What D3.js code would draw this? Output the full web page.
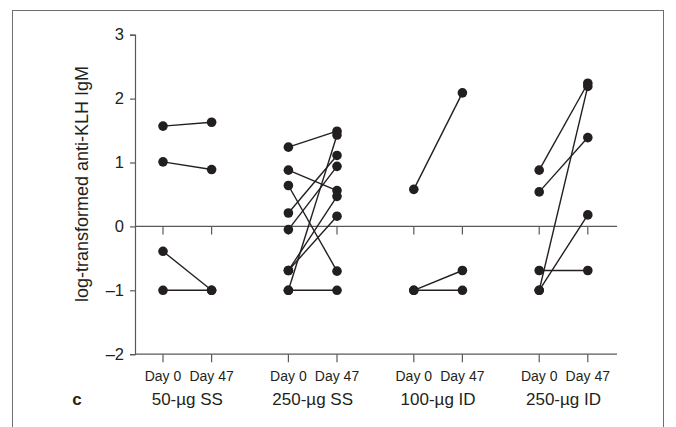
<!DOCTYPE html>
<html>
<head>
<meta charset="utf-8">
<script src="https://cdn.jsdelivr.net/npm/d3@7"></script>
<style>
  html, body { margin: 0; padding: 0; background: #fff; }
  svg { display: block; }
  text { font-family: "Liberation Sans", Arial, sans-serif; fill: #231f20; }
</style>
</head>
<body>
<svg id="chart" width="676" height="427"></svg>
<script>
// Treatment groups and sampling days
const groups = ["50-µg SS", "250-µg SS", "100-µg ID", "250-µg ID"];
const days = ["Day 0", "Day 47"];
const yTicks = [-2, -1, 0, 1, 2, 3];

// Paired subject values (log-transformed anti-KLH IgM), Day 0 → Day 47
const ss50Day0  = [1.57, 1.01, -0.39, -1.0];
const ss50Day47 = [1.63, 0.89, -1.0, -1.0];
const ss250Day0  = [1.24, 0.88, 0.64, 0.21, -0.05, -0.69, -0.69, -1.0, -1.0];
const ss250Day47 = [1.49, 0.56, -0.70, 1.11, 0.94, 0.47, 0.16, 1.43, -1.0];
const id100Day0  = [0.58, -1.0, -1.0];
const id100Day47 = [2.09, -0.69, -1.0];
const id250Day0  = [0.88, 0.54, -0.69, -1.0, -1.0];
const id250Day47 = [2.24, 1.39, -0.69, 2.19, 0.18];

const day0Sets = [ss50Day0, ss250Day0, id100Day0, id250Day0];
const day47Sets = [ss50Day47, ss250Day47, id100Day47, id250Day47];

const pairs = [];
groups.forEach((g, i) => {
  day0Sets[i].forEach((v0, j) => pairs.push({ group: g, v0, v1: day47Sets[i][j] }));
});

const svg = d3.select("#chart");
const ink = "#231f20";
const axisCol = "#58595b";

// Panel frame
svg.append("rect")
  .attr("x", 12.5).attr("y", 10.5).attr("width", 651).attr("height", 440)
  .attr("fill", "none").attr("stroke", "#6d6e71").attr("stroke-width", 1);

const y = d3.scaleLinear().domain([-2, 3]).range([354.2, 34.7]);
const xGroup = d3.scaleBand().domain(groups).range([124.6, 626.2]);
const xDay = d3.scalePoint().domain(days).range([-24.3, 24.3]);
const xPos = (g, d) => xGroup(g) + xGroup.bandwidth() / 2 + xDay(d);

const xLeft = 135, xRight = 617;

// Y axis
const yAxis = svg.append("g")
  .attr("transform", `translate(${xLeft},0)`)
  .call(d3.axisLeft(y).tickValues(yTicks).tickSize(5).tickPadding(6)
        .tickFormat(d => d < 0 ? "\u2013" + Math.abs(d) : d));
yAxis.select(".domain").attr("stroke", axisCol).attr("stroke-width", 1.2);
yAxis.selectAll(".tick line").attr("stroke", axisCol).attr("stroke-width", 1.2);
yAxis.selectAll(".tick text")
  .attr("font-family", "Liberation Sans, Arial, sans-serif")
  .attr("font-size", 16.5).attr("fill", ink);

// Baseline at -2 and reference line at 0
[-2, 0].forEach(v => {
  svg.append("line")
    .attr("x1", xLeft).attr("x2", xRight)
    .attr("y1", y(v)).attr("y2", y(v))
    .attr("stroke", axisCol).attr("stroke-width", 1.2);
});

// Day tick marks below both horizontal lines
const tickKeys = [];
groups.forEach(g => days.forEach(d => tickKeys.push({ g, d })));
[-2, 0].forEach(v => {
  svg.append("g").selectAll("line").data(tickKeys).join("line")
    .attr("x1", k => xPos(k.g, k.d)).attr("x2", k => xPos(k.g, k.d))
    .attr("y1", y(v)).attr("y2", y(v) + 8)
    .attr("stroke", axisCol).attr("stroke-width", 1.2);
});

// Day labels
svg.append("g").selectAll("text").data(tickKeys).join("text")
  .attr("x", k => xPos(k.g, k.d)).attr("y", 381)
  .attr("text-anchor", "middle").attr("font-size", 14)
  .text(k => k.d);

// Group labels
svg.append("g").selectAll("text").data(groups).join("text")
  .attr("x", g => xGroup(g) + xGroup.bandwidth() / 2).attr("y", 405)
  .attr("text-anchor", "middle").attr("font-size", 17)
  .text(g => g);

// Panel letter
svg.append("text").attr("x", 77).attr("y", 405)
  .attr("text-anchor", "middle").attr("font-size", 17).attr("font-weight", "bold")
  .text("c");

// Y axis title
svg.append("text")
  .attr("transform", `translate(88,184) rotate(-90)`)
  .attr("text-anchor", "middle").attr("font-size", 18)
  .text("log-transformed anti-KLH IgM");

// Connecting lines
svg.append("g").selectAll("line").data(pairs).join("line")
  .attr("x1", p => xPos(p.group, days[0])).attr("y1", p => y(p.v0))
  .attr("x2", p => xPos(p.group, days[1])).attr("y2", p => y(p.v1))
  .attr("stroke", ink).attr("stroke-width", 1.4);

// Subject dots
const dots = [];
pairs.forEach(p => {
  dots.push({ x: xPos(p.group, days[0]), v: p.v0 });
  dots.push({ x: xPos(p.group, days[1]), v: p.v1 });
});
svg.append("g").selectAll("circle").data(dots).join("circle")
  .attr("cx", d => d.x).attr("cy", d => y(d.v)).attr("r", 4.8)
  .attr("fill", ink);
</script>
</body>
</html>
